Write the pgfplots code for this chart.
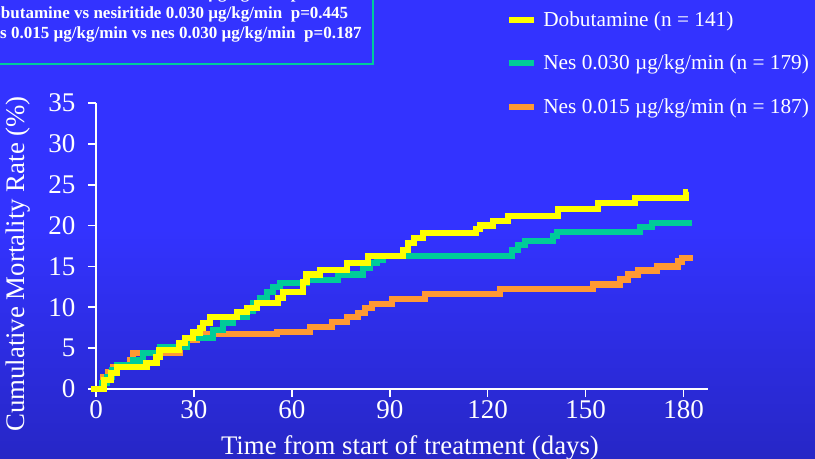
\documentclass[border=0pt]{standalone}
\usepackage{pgfplots}
\pgfplotsset{compat=1.18}
\usepackage{fontspec}
\setmainfont{Liberation Serif}
\definecolor{dobu}{RGB}{255,255,0}
\definecolor{nesA}{RGB}{0,204,153}
\definecolor{nesB}{RGB}{255,153,51}
\definecolor{bgtop}{RGB}{42,42,214}
\definecolor{bgmid}{RGB}{51,51,255}
\definecolor{bgbot}{RGB}{26,26,140}
\pgfdeclareverticalshading{bgshade}{100bp}{color(0bp)=(bgbot); color(50bp)=(bgmid); color(78bp)=(bgmid); color(100bp)=(bgtop)}
\begin{document}
\begin{tikzpicture}
\path[use as bounding box] (0bp,0bp) rectangle (815bp,459bp);
\clip (0bp,0bp) rectangle (815bp,459bp);
\shade[shading=bgshade] (0bp,0bp) rectangle (815bp,459bp);
\draw[nesA, line width=2bp] (-10bp,470bp) rectangle (373bp,395bp);
\begin{scope}[every node/.style={anchor=base west, inner sep=0pt, text=white, font=\bfseries\fontsize{17bp}{18bp}\selectfont}]
\node at (-20bp,460bp) {Dobutamine vs nesiritide 0.015 µg/kg/min\ \ p=0.273};
\node at (-20bp,440bp) {Dobutamine vs nesiritide 0.030 µg/kg/min\ \ p=0.445};
\node at (-19.8bp,420.5bp) {Nes 0.015 µg/kg/min vs nes 0.030 µg/kg/min\ \ p=0.187};
\end{scope}
\begin{axis}[
  at={(96bp,70bp)}, anchor=south west,
  scale only axis, width=612bp, height=286bp,
  xmin=0, xmax=187.5, ymin=0, ymax=35,
  clip=false,
  axis x line*=bottom, axis y line*=left,
  axis line style={white, line width=1.6bp},
  every tick/.style={white, line width=1.6bp},
  major tick length=8bp, tick align=outside,
  xtick={0,30,...,180}, ytick={0,5,...,35},
  tick label style={text=white, font=\fontsize{27bp}{30bp}\selectfont, /pgf/number format/assume math mode=true},
  yticklabel style={xshift=-9bp},
  label style={text=white, font=\fontsize{26.8bp}{30bp}\selectfont},
  xlabel={Time from start of treatment (days)},
  ylabel={Cumulative Mortality Rate (\%)},
  xlabel style={at={(axis description cs:0.513,-0.205)}, anchor=center},
  ylabel style={at={(axis description cs:-0.1275,0.437)}, anchor=center},
  legend cell align=left, reverse legend,
  legend style={at={(axis description cs:0.665,1.333)}, anchor=north west, draw=none, fill=none, text=white, font=\fontsize{21.3bp}{24bp}\selectfont, row sep=23bp},
  legend image code/.code={\draw[#1, line width=6bp] (0bp,0bp) -- (25bp,0bp); \path (29bp,0bp);},
  const plot, line join=miter,
]
\addplot[nesB, line width=6.3bp] coordinates {(-1.5,0)(2.1,1.5)(3.7,2.1)(5.2,2.7)(10.4,3.5)(11.3,4.4)(25.7,5.1)(27.8,6.0)(30.8,6.4)(31.9,6.7)(55.4,7.0)(65.6,7.6)(72.3,8.2)(76.9,8.8)(80.3,9.3)(82.4,9.9)(84.6,10.4)(90.7,11.0)(100.8,11.6)(123.8,12.2)(152.3,12.8)(160.5,13.4)(163,14.0)(166,14.5)(171.9,15.0)(178.3,15.6)(179.6,16.0)(183,16.0)};
\addlegendentry{Nes 0.015 µg/kg/min (n = 187)}
\addplot[nesA, line width=6.3bp] coordinates {(-1.5,0)(1.8,0.7)(3.4,1.5)(4.9,2.3)(6.4,2.9)(11.3,3.5)(14.4,4.4)(19.6,5.1)(27.8,6.2)(35.8,7.2)(38.9,8.1)(42,8.8)(46.3,9.6)(48.1,10.5)(50.2,11.1)(52.4,11.9)(54.2,12.5)(56.4,13.0)(64.6,13.3)(74.1,14.0)(81.8,14.8)(83.9,15.4)(86.1,15.8)(87.9,16.3)(127.5,17.0)(129.3,17.6)(131.4,18.1)(140,18.7)(141.2,19.2)(166.7,19.8)(170.3,20.3)(182.6,20.3)};
\addlegendentry{Nes 0.030 µg/kg/min (n = 179)}
\addplot[dobu, line width=6.3bp] coordinates {(-1.5,0)(2.5,1.1)(4.5,2.0)(6.5,2.7)(15.5,3.2)(18.5,3.9)(19.5,4.8)(25.5,5.6)(27.3,6.2)(29.7,6.9)(31.9,7.5)(32.8,8.1)(34.9,8.8)(43.2,9.4)(46.3,9.9)(49.3,10.5)(55.8,11.1)(57.3,11.9)(63.4,13.1)(64.5,14.0)(68.6,14.6)(76.9,15.4)(83.3,16.3)(94.1,17.0)(95.5,17.9)(97.5,18.5)(100.2,19.1)(116.5,19.6)(117.6,20.0)(121.6,20.6)(126.2,21.2)(141.5,22.0)(153.8,22.8)(165.1,23.4)(180.7,24.1)(181.5,24.1)};
\addlegendentry{Dobutamine (n = 141)}
\end{axis}
\end{tikzpicture}
\end{document}
